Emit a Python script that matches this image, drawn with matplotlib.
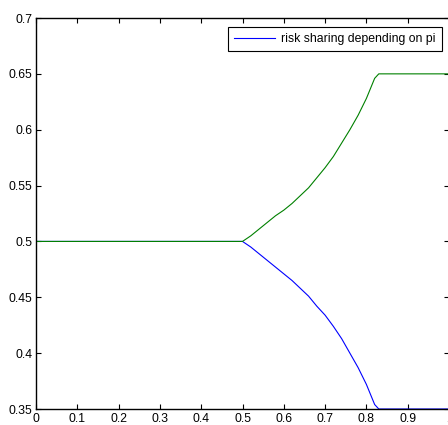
import matplotlib
matplotlib.use("Agg")
import matplotlib.pyplot as plt

# Data
x_vals = [0.0, 0.5, 0.52, 0.54, 0.56, 0.58, 0.60, 0.62, 0.64, 0.66, 0.68, 0.70,
          0.72, 0.74, 0.76, 0.78, 0.80, 0.82, 0.83, 1.0]
blue_vals = [0.5, 0.5, 0.495, 0.489, 0.483, 0.477, 0.471, 0.465, 0.458, 0.451,
             0.442, 0.434, 0.424, 0.413, 0.400, 0.387, 0.372, 0.354, 0.350, 0.350]
green_vals = [0.5, 0.5, 0.505, 0.511, 0.517, 0.523, 0.528, 0.534, 0.541, 0.548,
              0.557, 0.566, 0.576, 0.588, 0.600, 0.613, 0.628, 0.646, 0.650, 0.650]
legend_label = "risk sharing depending on pi"
x_ticks = [0, 0.1, 0.2, 0.3, 0.4, 0.5, 0.6, 0.7, 0.8, 0.9, 1.0]
x_ticklabels = ["0", "0.1", "0.2", "0.3", "0.4", "0.5", "0.6", "0.7", "0.8", "0.9", "1"]
y_ticks = [0.35, 0.4, 0.45, 0.5, 0.55, 0.6, 0.65, 0.7]
y_ticklabels = ["0.35", "0.4", "0.45", "0.5", "0.55", "0.6", "0.65", "0.7"]

plt.rcParams['font.family'] = ['Liberation Sans', 'DejaVu Sans']

fig = plt.figure(figsize=(4.48, 4.25), dpi=100)
ax = fig.add_axes([36/448, 16/425, (449-36)/448, (409-18)/425])

ax.plot(x_vals, blue_vals, color=(0, 0, 1), linewidth=0.8, label=legend_label)
ax.plot(x_vals, green_vals, color=(0, 0.5, 0), linewidth=0.8)

ax.set_xlim(0, 1)
ax.set_ylim(0.35, 0.7)
ax.set_xticks(x_ticks)
ax.set_xticklabels(x_ticklabels)
ax.set_yticks(y_ticks)
ax.set_yticklabels(y_ticklabels)
ax.tick_params(direction='in', length=3.5, width=0.8, labelsize=8.8,
               top=True, right=True, colors='black', pad=2.5)
ax.tick_params(axis='x', pad=3.2)
for s in ax.spines.values():
    s.set_linewidth(1.0)
    s.set_color('black')

leg = ax.legend(loc='upper right', bbox_to_anchor=(442/448, 1 - 26.7/425),
                bbox_transform=fig.transFigure, borderaxespad=0,
                fontsize=8.8, fancybox=False, framealpha=1, edgecolor='black',
                handlelength=3.4, handletextpad=0.5, borderpad=0.5)
leg.get_frame().set_linewidth(0.8)

fig.savefig("out.png", dpi=100)
